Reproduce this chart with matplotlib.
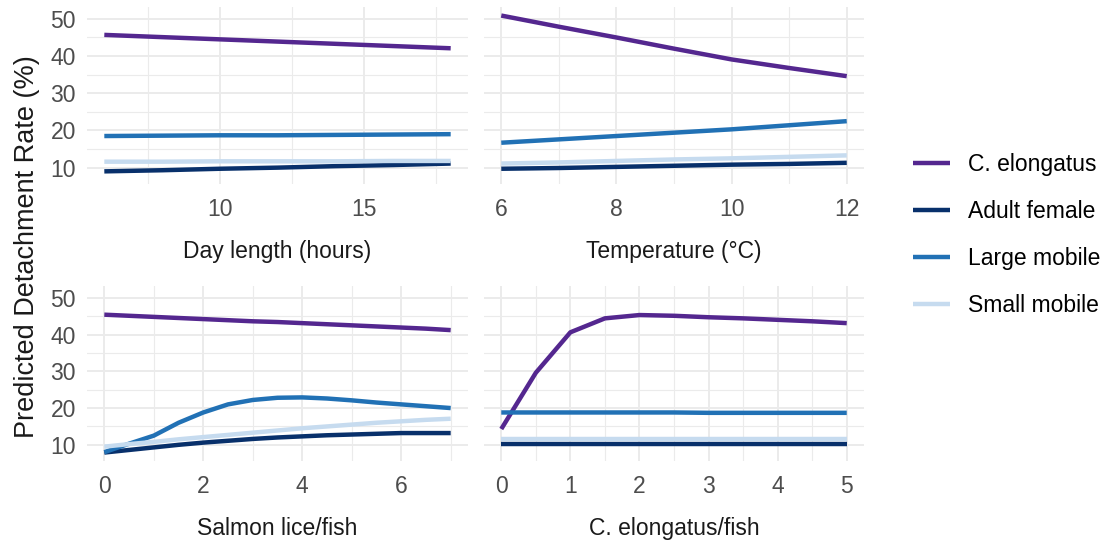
import matplotlib.pyplot as plt
import numpy as np

plt.rcParams['font.family'] = ['Liberation Sans', 'DejaVu Sans']

groups = ['C. elongatus', 'Adult female', 'Large mobile', 'Small mobile']
colors = ['#54278F', '#08306B', '#2171B5', '#C6DBEF']

# day length panel
day_x = [6, 8, 10, 12, 14, 16, 18]
day_ce = [45.7, 45.1, 44.5, 43.9, 43.3, 42.7, 42.1]
day_af = [9.0, 9.3, 9.7, 10.0, 10.4, 10.7, 11.1]
day_lm = [18.5, 18.6, 18.7, 18.7, 18.8, 18.9, 19.0]
day_sm = [11.6, 11.6, 11.7, 11.7, 11.7, 11.8, 11.8]

# temperature panel
temp_x = [6, 7, 8, 9, 10, 11, 12]
temp_ce = [50.9, 47.9, 45.0, 42.0, 39.1, 36.8, 34.6]
temp_af = [9.7, 9.9, 10.2, 10.5, 10.8, 11.0, 11.3]
temp_lm = [16.7, 17.6, 18.5, 19.4, 20.3, 21.4, 22.5]
temp_sm = [11.1, 11.4, 11.8, 12.2, 12.5, 12.9, 13.3]

# salmon lice panel
lice_x = [0, 0.5, 1, 1.5, 2, 2.5, 3, 3.5, 4, 4.5, 5, 5.5, 6, 6.5, 7]
lice_ce = [45.4, 45.1, 44.8, 44.5, 44.2, 43.9, 43.6, 43.4, 43.1, 42.8, 42.5, 42.2, 41.9, 41.6, 41.2]
lice_af = [7.9, 8.6, 9.3, 10.0, 10.6, 11.1, 11.6, 12.0, 12.3, 12.6, 12.8, 13.0, 13.2, 13.2, 13.2]
lice_lm = [8.0, 10.3, 12.5, 16.0, 18.8, 21.0, 22.2, 22.8, 22.9, 22.6, 22.1, 21.5, 21.0, 20.5, 20.0]
lice_sm = [9.5, 10.2, 10.8, 11.5, 12.1, 12.7, 13.3, 13.9, 14.5, 15.0, 15.5, 16.0, 16.4, 16.8, 17.1]

# C. elongatus/fish panel
ce_x = [0, 0.5, 1, 1.5, 2, 2.5, 3, 3.5, 4, 4.5, 5]
ce_ce = [14.3, 29.6, 40.6, 44.4, 45.3, 45.1, 44.7, 44.4, 44.0, 43.6, 43.1]
ce_af = [10.2, 10.2, 10.2, 10.2, 10.2, 10.2, 10.2, 10.2, 10.2, 10.2, 10.2]
ce_lm = [18.8, 18.8, 18.8, 18.8, 18.8, 18.8, 18.7, 18.7, 18.7, 18.7, 18.7]
ce_sm = [11.6, 11.6, 11.6, 11.6, 11.6, 11.6, 11.6, 11.6, 11.6, 11.6, 11.6]

panels = [
    (day_x, [day_ce, day_af, day_lm, day_sm], 'Day length (hours)', [10, 15], [7.5, 12.5, 17.5]),
    (temp_x, [temp_ce, temp_af, temp_lm, temp_sm], 'Temperature (°C)', [6, 8, 10, 12], [7, 9, 11]),
    (lice_x, [lice_ce, lice_af, lice_lm, lice_sm], 'Salmon lice/fish', [0, 2, 4, 6], [1, 3, 5, 7]),
    (ce_x, [ce_ce, ce_af, ce_lm, ce_sm], 'C. elongatus/fish', [0, 1, 2, 3, 4, 5], [0.5, 1.5, 2.5, 3.5, 4.5]),
]

W, H = 1110, 542
fig = plt.figure(figsize=(W / 100, H / 100), dpi=100)
boxes = [(87, 7, 468, 184), (484, 7, 864, 184), (87, 286, 468, 461), (484, 286, 864, 461)]

handles = []
for i, ((x, ys, xlabel, xt, xminor), (l, t, r, b)) in enumerate(zip(panels, boxes)):
    ax = fig.add_axes([l / W, 1 - b / H, (r - l) / W, (b - t) / H])
    for y, c, g in zip(ys, colors, groups):
        h, = ax.plot(x, y, color=c, lw=3.2, label=g, solid_capstyle='butt')
        if i == 0:
            handles.append(h)
    span = x[-1] - x[0]
    ax.set_xlim(x[0] - 0.05 * span, x[-1] + 0.05 * span)
    ax.set_ylim(5.6, 53.2)
    ax.set_xticks(xt)
    ax.set_xticks(xminor, minor=True)
    ax.set_yticks([10, 20, 30, 40, 50])
    ax.set_yticks([15, 25, 35, 45], minor=True)
    ax.grid(which='major', color='#EBEBEB', lw=1.4)
    ax.grid(which='minor', color='#EBEBEB', lw=0.8)
    ax.set_axisbelow(True)
    for s in ax.spines.values():
        s.set_visible(False)
    ax.tick_params(which='both', length=0, labelsize=16.5, labelcolor='#4D4D4D')
    ax.tick_params(axis='x', pad=10)
    ax.tick_params(axis='y', pad=8)
    if i % 2 == 1:
        ax.tick_params(labelleft=False)
    ax.set_xlabel(xlabel, fontsize=16.5, color='#1A1A1A', labelpad=14)

fig.text(27 / W, 1 - 247 / H, 'Predicted Detachment Rate (%)', rotation=90,
         ha='center', va='center', fontsize=19.5, color='#1A1A1A')

fig.legend(handles=handles, labels=groups, loc='center left',
           bbox_to_anchor=(0.804, 0.566), frameon=False, fontsize=16.5,
           handlelength=1.6, labelspacing=1.05, handletextpad=0.8)

fig.savefig('out.png', dpi=100)
